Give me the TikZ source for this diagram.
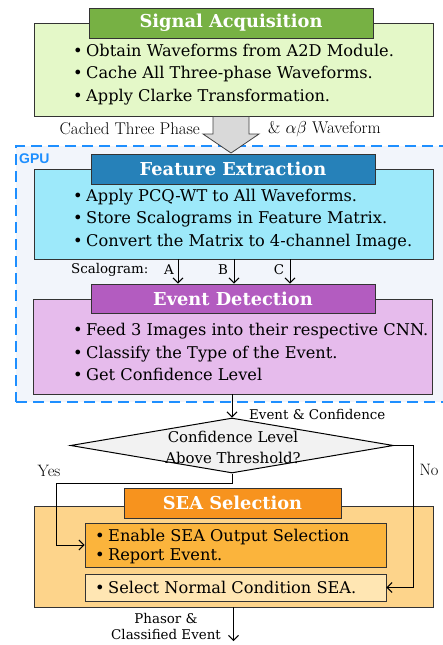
\documentclass[tikz,border=0pt]{standalone}
\usepackage{fontspec}
\setmainfont{DejaVu Serif}
\newfontfamily\lmfont{Latin Modern Roman}
\newfontfamily\gpufont{Liberation Sans}
\usetikzlibrary{shapes.geometric,arrows.meta}

\definecolor{saTitle}{HTML}{77B144}
\definecolor{saFill}{HTML}{E4F8C8}
\definecolor{feTitle}{HTML}{2681B9}
\definecolor{feFill}{HTML}{9DE9FA}
\definecolor{edTitle}{HTML}{B35CC0}
\definecolor{edFill}{HTML}{E6BBEC}
\definecolor{seaTitle}{HTML}{F7931E}
\definecolor{seaFill}{HTML}{FDD48B}
\definecolor{seaBoxA}{HTML}{FBB43C}
\definecolor{seaBoxB}{HTML}{FFE6B3}
\definecolor{gpuBlue}{HTML}{1E8FFF}
\definecolor{gpuFill}{HTML}{F2F5FB}
\definecolor{lineGray}{HTML}{333333}

\newcommand\itm[1]{\makebox[13pt][l]{•}#1}

\tikzset{
  panel/.style={draw=lineGray, line width=0.8pt, minimum width=399pt, inner sep=0pt},
  titlebox/.style={draw=lineGray, line width=0.8pt, text=white, minimum width=284pt,
    minimum height=30pt, inner sep=0pt, font=\fontsize{17.8}{20}\selectfont\bfseries},
  items/.style={anchor=west, align=left, inner sep=0pt, font=\fontsize{16.2}{22.5}\selectfont},
  note/.style={inner sep=0pt, font=\fontsize{13.4}{16}\selectfont},
  lmnote/.style={inner sep=0pt, font=\lmfont\fontsize{17}{18}\selectfont},
  conn/.style={-{Straight Barb[length=5pt,width=10pt]}, line width=1pt},
}

\begin{document}
\begin{tikzpicture}[x=1pt,y=-1pt]
\useasboundingbox (0,0) rectangle (443,645);

% GPU region
\node[draw=gpuBlue, fill=gpuFill, line width=1.6pt, dash pattern=on 11pt off 6pt,
      minimum width=429pt, minimum height=256pt, inner sep=0pt] (gpu) at (230.5,274) {};
\node[anchor=west, inner sep=0pt, text=gpuBlue, font=\gpufont\fontsize{14}{16}\selectfont\bfseries]
      (gpulbl) at (19,159) {GPU};

% Signal acquisition
\node[panel, fill=saFill, minimum height=93pt] (sa) at (233.5,69.5) {};
\node[titlebox, fill=saTitle] (saT) at (231,23) {Signal Acquisition};
\node[items] (saL) at (73,74.5) {\itm{Obtain Waveforms from A2D Module.}\\
  \itm{Cache All Three-phase Waveforms.}\\ \itm{Apply Clarke Transformation.}};

% Transfer arrow into the GPU
\draw[draw=black!75, fill=black!15, line width=0.8pt]
  (sa.south -| 213,0) -- (sa.south -| 249,0) -- (249,134) -- (259,134) -- (231,153)
  -- (203,134) -- (213,134) -- cycle;
\node[lmnote, anchor=east] (cached) at (200,129) {Cached Three Phase};
\node[lmnote, anchor=west] (wave) at (268,129) {\& $\alpha\beta$ Waveform};

% Feature extraction
\node[panel, fill=feFill, minimum height=90pt] (fe) at (233.5,214) {};
\node[titlebox, fill=feTitle] (feT) at (233,169) {Feature Extraction};
\node[items] (feL) at (73,219.5) {\itm{Apply PCQ-WT to All Waveforms.}\\
  \itm{Store Scalograms in Feature Matrix.}\\ \itm{Convert the Matrix to 4-channel Image.}};

% Event detection
\node[panel, fill=edFill, minimum height=95pt] (ed) at (232.5,346.5) {};
\node[titlebox, fill=edTitle, minimum height=29pt] (edT) at (233,298.5) {Event Detection};
\node[items] (edL) at (73,352) {\itm{Feed 3 Images into their respective CNN.}\\
  \itm{Classify the Type of the Event.}\\ \itm{Get Confidence Level}};

% Scalogram channels
\coordinate (chA) at (178,0);
\coordinate (chB) at (234,0);
\coordinate (chC) at (290,0);
\node[note, anchor=west] (scal) at (71,270) {Scalogram:};
\node[note] (lA) at (169,270) {A};
\node[note] (lB) at (223,270) {B};
\node[note] (lC) at (279,270) {C};
\draw[conn] (fe.south -| chA) -- (edT.north -| chA);
\draw[conn] (fe.south -| chB) -- (edT.north -| chB);
\draw[conn] (fe.south -| chC) -- (edT.north -| chC);

% Decision
\node[diamond, draw=black, fill=black!5, line width=1pt, minimum width=323pt,
      minimum height=55pt, inner sep=0pt] (dia) at (232,445.5) {};
\node[align=center, inner sep=0pt, font=\fontsize{14.9}{21}\selectfont] (diaT) at (233,447)
      {Confidence Level\\Above Threshold?};
\draw[conn] (ed.south -| dia.north) -- (dia.north);
\node[note, anchor=west] (evc) at (249,414) {Event \& Confidence};

% SEA selection
\node[panel, fill=seaFill, minimum height=101pt] (sea) at (233.5,556.5) {};
\node[titlebox, fill=seaTitle, minimum width=217pt] (seaT) at (232.5,503) {SEA Selection};
\node[draw=lineGray, line width=0.8pt, fill=seaBoxA, minimum width=301pt,
      minimum height=44pt, inner sep=0pt] (b1) at (235.5,545) {};
\node[items, font=\fontsize{16.2}{19.5}\selectfont] (b1L) at (95,546.5)
      {\itm{Enable SEA Output Selection}\\ \itm{Report Event.}};
\node[draw=lineGray, line width=0.8pt, fill=seaBoxB, minimum width=301pt,
      minimum height=27pt, inner sep=0pt] (b2) at (235.5,587.5) {};
\node[items] (b2L) at (95,587) {\itm{Select Normal Condition SEA.}};

% Branches
\coordinate (yk) at (56,483);
\coordinate (nox) at (413,0);
\draw[conn] (dia.south) |- (yk) |- (b1.west);
\draw[conn] (dia.east) -| (nox |- b2.east) -- (b2.east);
\node[lmnote, font=\lmfont\fontsize{16.5}{18}\selectfont] (yes) at (49,471) {Yes};
\node[lmnote, font=\lmfont\fontsize{16.5}{18}\selectfont] (no) at (429,470) {No};

% Output
\coordinate (out) at (233.5,641);
\draw[conn] (sea.south) -- (out);
\node[note, align=center] (outL) at (166,626) {Phasor \&\\Classified Event};
\end{tikzpicture}
\end{document}
